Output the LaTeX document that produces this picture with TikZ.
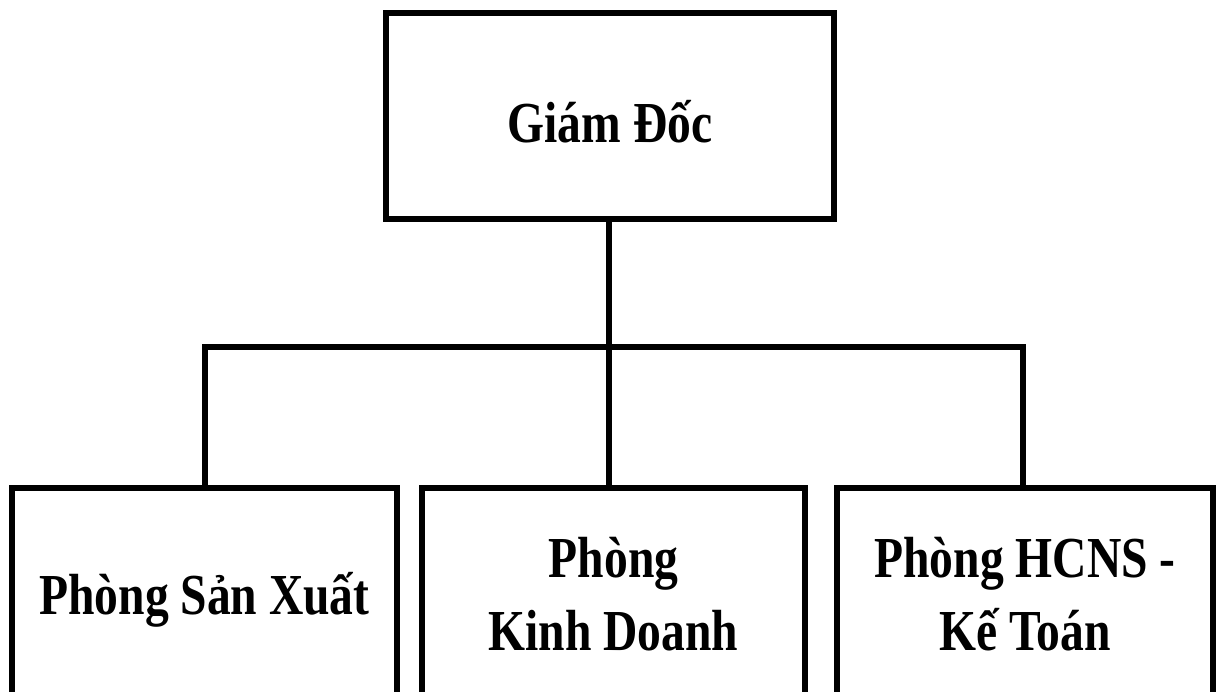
\documentclass[tikz,border=0pt]{standalone}
\usepackage{fontspec}
\setmainfont{Liberation Serif}[FakeStretch=0.82]
\usepackage{tikz}
\tikzset{unit/.style={draw=black, line width=3pt, align=center, inner sep=0pt, font=\bfseries\fontsize{33}{41.5}\selectfont}}
\tikzset{link/.style={draw=black, line width=3pt}}

\begin{document}
\begin{tikzpicture}
                \useasboundingbox (0,0) rectangle (24.4,13.84);
                \clip (0,0) rectangle (24.4,13.84);
                \node[unit, minimum width=8.96cm, minimum height=4.12cm, text height=1.08cm, text depth=0cm] (boss) at (12.2,11.52) {Giám Đốc};
                \node[unit, minimum width=7.7cm, minimum height=4.24cm, text height=1.1cm, text depth=0.26cm] (prod) at (4.09,1.96) {Phòng Sản Xuất};
                \node[unit, minimum width=7.66cm, minimum height=4.24cm] (sales) at (12.27,1.96) {Phòng\\Kinh Doanh};
                \node[unit, minimum width=7.52cm, minimum height=4.24cm] (admin) at (20.5,1.96) {Phòng HCNS -\\Kế Toán};
                \coordinate (bar) at (12.18,6.9);
                \draw[link] (bar |- boss.south) -- (bar);
                \draw[link] (bar) -- (bar |- sales.north);
                \draw[link] (bar) -| (prod.north -| 4.1,0);
                \draw[link] (bar) -| (admin.north -| 20.46,0);
\end{tikzpicture}
\end{document}
